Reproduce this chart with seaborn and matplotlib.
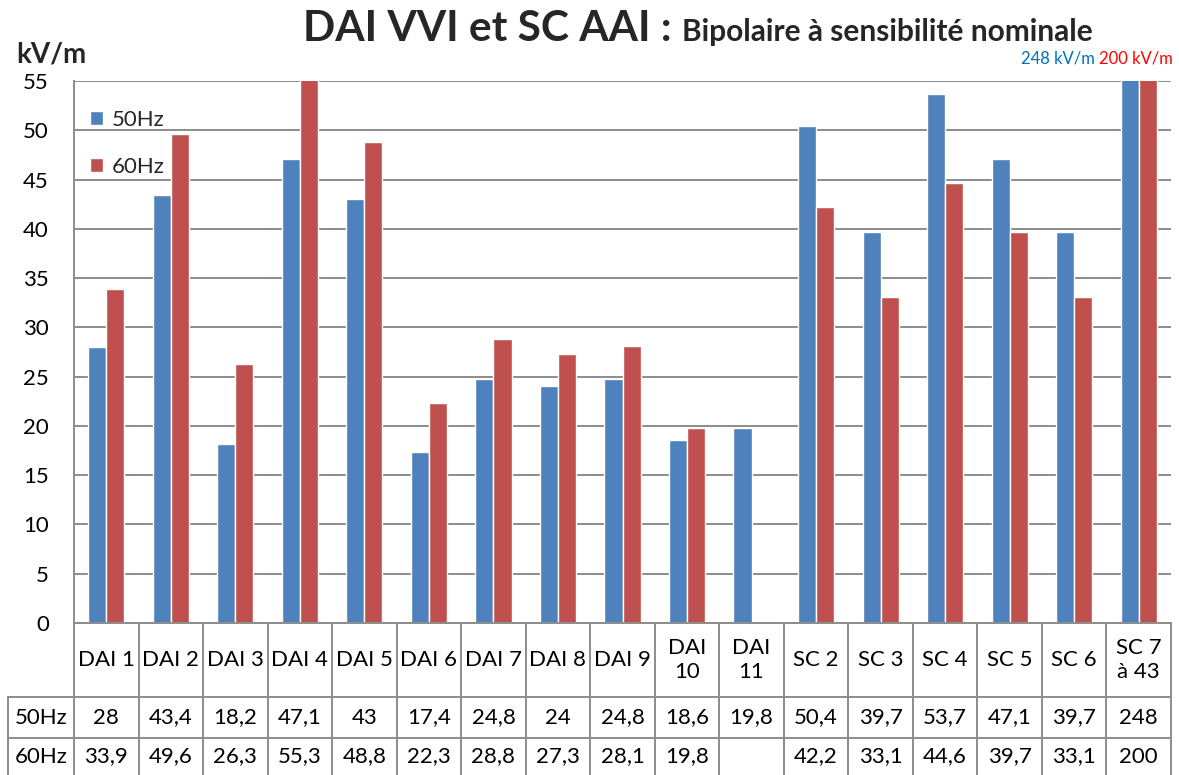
import numpy as np
import pandas as pd
import matplotlib
matplotlib.use("Agg")
import matplotlib.pyplot as plt
import seaborn as sns

# Devices and measured thresholds (kV/m)
categories = ["DAI 1", "DAI 2", "DAI 3", "DAI 4", "DAI 5", "DAI 6", "DAI 7", "DAI 8",
              "DAI 9", "DAI\n10", "DAI\n11", "SC 2", "SC 3", "SC 4", "SC 5", "SC 6",
              "SC 7\nà 43"]
values_50hz = [28, 43.4, 18.2, 47.1, 43, 17.4, 24.8, 24, 24.8, 18.6, 19.8,
               50.4, 39.7, 53.7, 47.1, 39.7, 248]
values_60hz = [33.9, 49.6, 26.3, 55.3, 48.8, 22.3, 28.8, 27.3, 28.1, 19.8, np.nan,
               42.2, 33.1, 44.6, 39.7, 33.1, 200]
series_names = ["50Hz", "60Hz"]
y_ticks = list(range(0, 56, 5))
colors = ["#4F81BD", "#C0504D"]

df = pd.DataFrame({
    "device": categories * 2,
    "freq": [series_names[0]] * len(categories) + [series_names[1]] * len(categories),
    "value": values_50hz + values_60hz,
})

sns.set_theme(style="white")
plt.rcParams["font.family"] = ["Lato", "DejaVu Sans"]

W, H = 1179, 775
fig = plt.figure(figsize=(W / 100, H / 100), dpi=100)
left_px, right_px, top_px, bot_px = 74, 1171, 81, 623
ax = fig.add_axes([left_px / W, 1 - bot_px / H, (right_px - left_px) / W, (bot_px - top_px) / H])

sns.barplot(data=df, x="device", y="value", hue="freq", palette=colors,
            width=0.56, ax=ax, saturation=1, errorbar=None, legend=True,
            order=categories, hue_order=series_names)

ax.set_ylim(0, 55)
ax.set_xlim(-0.5, len(categories) - 0.5)
ax.set_yticks(y_ticks)
ax.set_yticklabels([str(t) for t in y_ticks], fontsize=16, color="black")
ax.tick_params(axis="y", length=0, pad=18)
ax.set_xticks([])
ax.set_xlabel("")
ax.set_ylabel("")
grid_c = "#8C8C8C"
ax.yaxis.grid(True, color=grid_c, linewidth=1.4)
ax.set_axisbelow(True)
for s in ["top", "right"]:
    ax.spines[s].set_visible(False)
for s in ["left", "bottom"]:
    ax.spines[s].set_color(grid_c)
    ax.spines[s].set_linewidth(1.4)

leg = ax.legend(loc="upper left", bbox_to_anchor=(0.0, 0.975), frameon=False,
                fontsize=16, handlelength=0.6, handleheight=0.6,
                labelspacing=1.2, handletextpad=0.4, borderaxespad=0.3)

# Data table below the plot area
px_per_unit_y = (bot_px - top_px) / 55.0
px_per_unit_x = (right_px - left_px) / len(categories)


def ypx(p):
    return -(p - bot_px) / px_per_unit_y


row_edges = [ypx(623), ypx(697), ypx(738), ypx(778)]
x_left_hdr = -0.5 - (left_px - 8) / px_per_unit_x
x_right = len(categories) - 0.5
lk = dict(color=grid_c, linewidth=1.4, clip_on=False)

ax.plot([x_left_hdr, x_right], [row_edges[1]] * 2, **lk)
ax.plot([x_left_hdr, x_right], [row_edges[2]] * 2, **lk)
for i in range(len(categories) + 1):
    xb = i - 0.5
    ax.plot([xb, xb], [0, row_edges[3]], **lk)
ax.plot([x_left_hdr, x_left_hdr], [row_edges[1], row_edges[3]], **lk)


def fmt(v):
    if v is None or (isinstance(v, float) and np.isnan(v)):
        return ""
    return ("%g" % v).replace(".", ",")


tk = dict(ha="center", va="center", fontsize=16, color="black", clip_on=False)
for i, c in enumerate(categories):
    ax.text(i, (row_edges[0] + row_edges[1]) / 2, c, linespacing=1.25, **tk)
    ax.text(i, (row_edges[1] + row_edges[2]) / 2, fmt(values_50hz[i]), **tk)
    ax.text(i, (row_edges[2] + row_edges[3]) / 2 + 0.15, fmt(values_60hz[i]), **tk)
for r, name in enumerate(series_names):
    ax.text((x_left_hdr - 0.5) / 2, (row_edges[r + 1] + row_edges[r + 2]) / 2 + (0.15 if r else 0),
            name, **tk)

# Titles and unit labels
t1 = fig.text(303 / W, 1 - 41 / H, "DAI VVI et SC AAI :", fontsize=30.5, fontweight="bold",
              ha="left", va="baseline")
fig.canvas.draw()
b1 = t1.get_window_extent()
fig.text((b1.x1 + 10) / W, 1 - 41 / H, "Bipolaire à sensibilité nominale", fontsize=21.5,
         fontweight="bold", ha="left", va="baseline")
fig.text(16 / W, 1 - 63 / H, "kV/m", fontsize=20, fontweight="bold", ha="left", va="baseline")

# Values of the clipped SC 7 bars
t2 = fig.text(1173 / W, 1 - 64 / H, "%g kV/m" % values_60hz[-1], fontsize=12,
              color="#FF0000", ha="right", va="baseline")
fig.canvas.draw()
bb = t2.get_window_extent()
fig.text((bb.x0 - 4) / W, 1 - 64 / H, "%g kV/m" % values_50hz[-1], fontsize=12,
         color="#0070C0", ha="right", va="baseline")

fig.savefig("out.png", dpi=100)
